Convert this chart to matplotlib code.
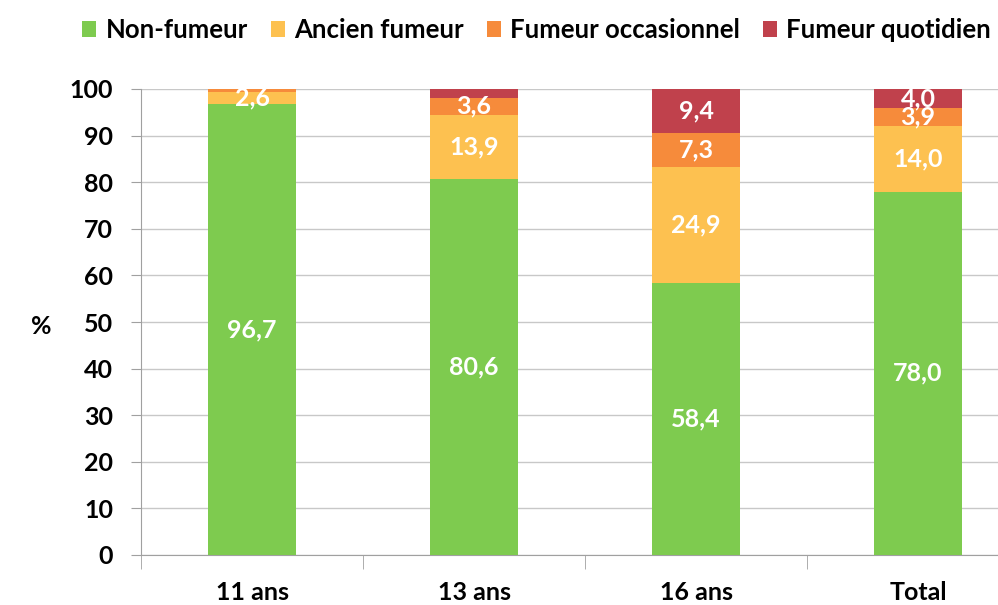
import matplotlib
matplotlib.use("Agg")
import matplotlib.pyplot as plt
import numpy as np

categories = ["11 ans", "13 ans", "16 ans", "Total"]
series_names = ["Non-fumeur", "Ancien fumeur", "Fumeur occasionnel", "Fumeur quotidien"]
non_fumeur = [96.7, 80.6, 58.4, 78.0]
ancien = [2.6, 13.9, 24.9, 14.0]
occasionnel = [0.6, 3.6, 7.3, 3.9]
quotidien = [0.1, 1.9, 9.4, 4.0]
labels_shown = [
    [True, True, True, True],
    [True, True, True, True],
    [False, True, True, True],
    [False, False, True, True],
]
colors = ["#7ECB4F", "#FDC150", "#F68B3B", "#C0414C"]

plt.rcParams['font.family'] = ['Lato', 'DejaVu Sans']
plt.rcParams['font.weight'] = 'bold'

fig = plt.figure(figsize=(9.98, 6.05), dpi=100)
ax = fig.add_axes([141/998, 1-555/605, 888/998, (555-89)/605])

x = np.arange(len(categories))
bottom = np.zeros(len(categories))
for i, (name, vals) in enumerate(zip(series_names, [non_fumeur, ancien, occasionnel, quotidien])):
    vals = np.array(vals)
    ax.bar(x, vals, 0.4, bottom=bottom, color=colors[i], label=name, zorder=3)
    for j in range(len(categories)):
        if labels_shown[i][j]:
            ax.text(x[j], bottom[j] + vals[j]/2, f"{vals[j]:.1f}".replace('.', ','),
                    ha='center', va='center', color='white', fontsize=18, fontweight='bold', zorder=4)
    bottom += vals

ax.set_xlim(-0.5, len(categories)-0.5)
ax.set_ylim(0, 100)
ax.set_yticks(np.arange(0, 101, 10))
ax.tick_params(axis='y', labelsize=18, length=7, color='#A0A0A0', pad=13)
ax.set_xticks(x)
ax.set_xticklabels(categories, fontsize=18, fontweight='bold')
ax.tick_params(axis='x', length=0, pad=19)
ax.set_xticks(np.arange(-0.5, len(categories), 1), minor=True)
ax.tick_params(axis='x', which='minor', length=10, color='#A0A0A0')
ax.grid(axis='y', color='#C8C8C8', linewidth=1, zorder=0)
for s in ['top', 'right']:
    ax.spines[s].set_visible(False)
ax.spines['left'].set_color('#A0A0A0')
ax.spines['bottom'].set_color('#A0A0A0')
ax.set_ylabel('%', fontsize=18, fontweight='bold', rotation=0, va='center')
ax.yaxis.set_label_coords(-100/888, 0.49)

leg = fig.legend(loc='center left', bbox_to_anchor=(72/998, 1-30/605), ncol=4, frameon=False,
                 fontsize=18.5, handlelength=0.55, handleheight=0.55, handletextpad=0.35, columnspacing=0.9,
                 borderaxespad=0)

fig.savefig('out.png', dpi=100)
